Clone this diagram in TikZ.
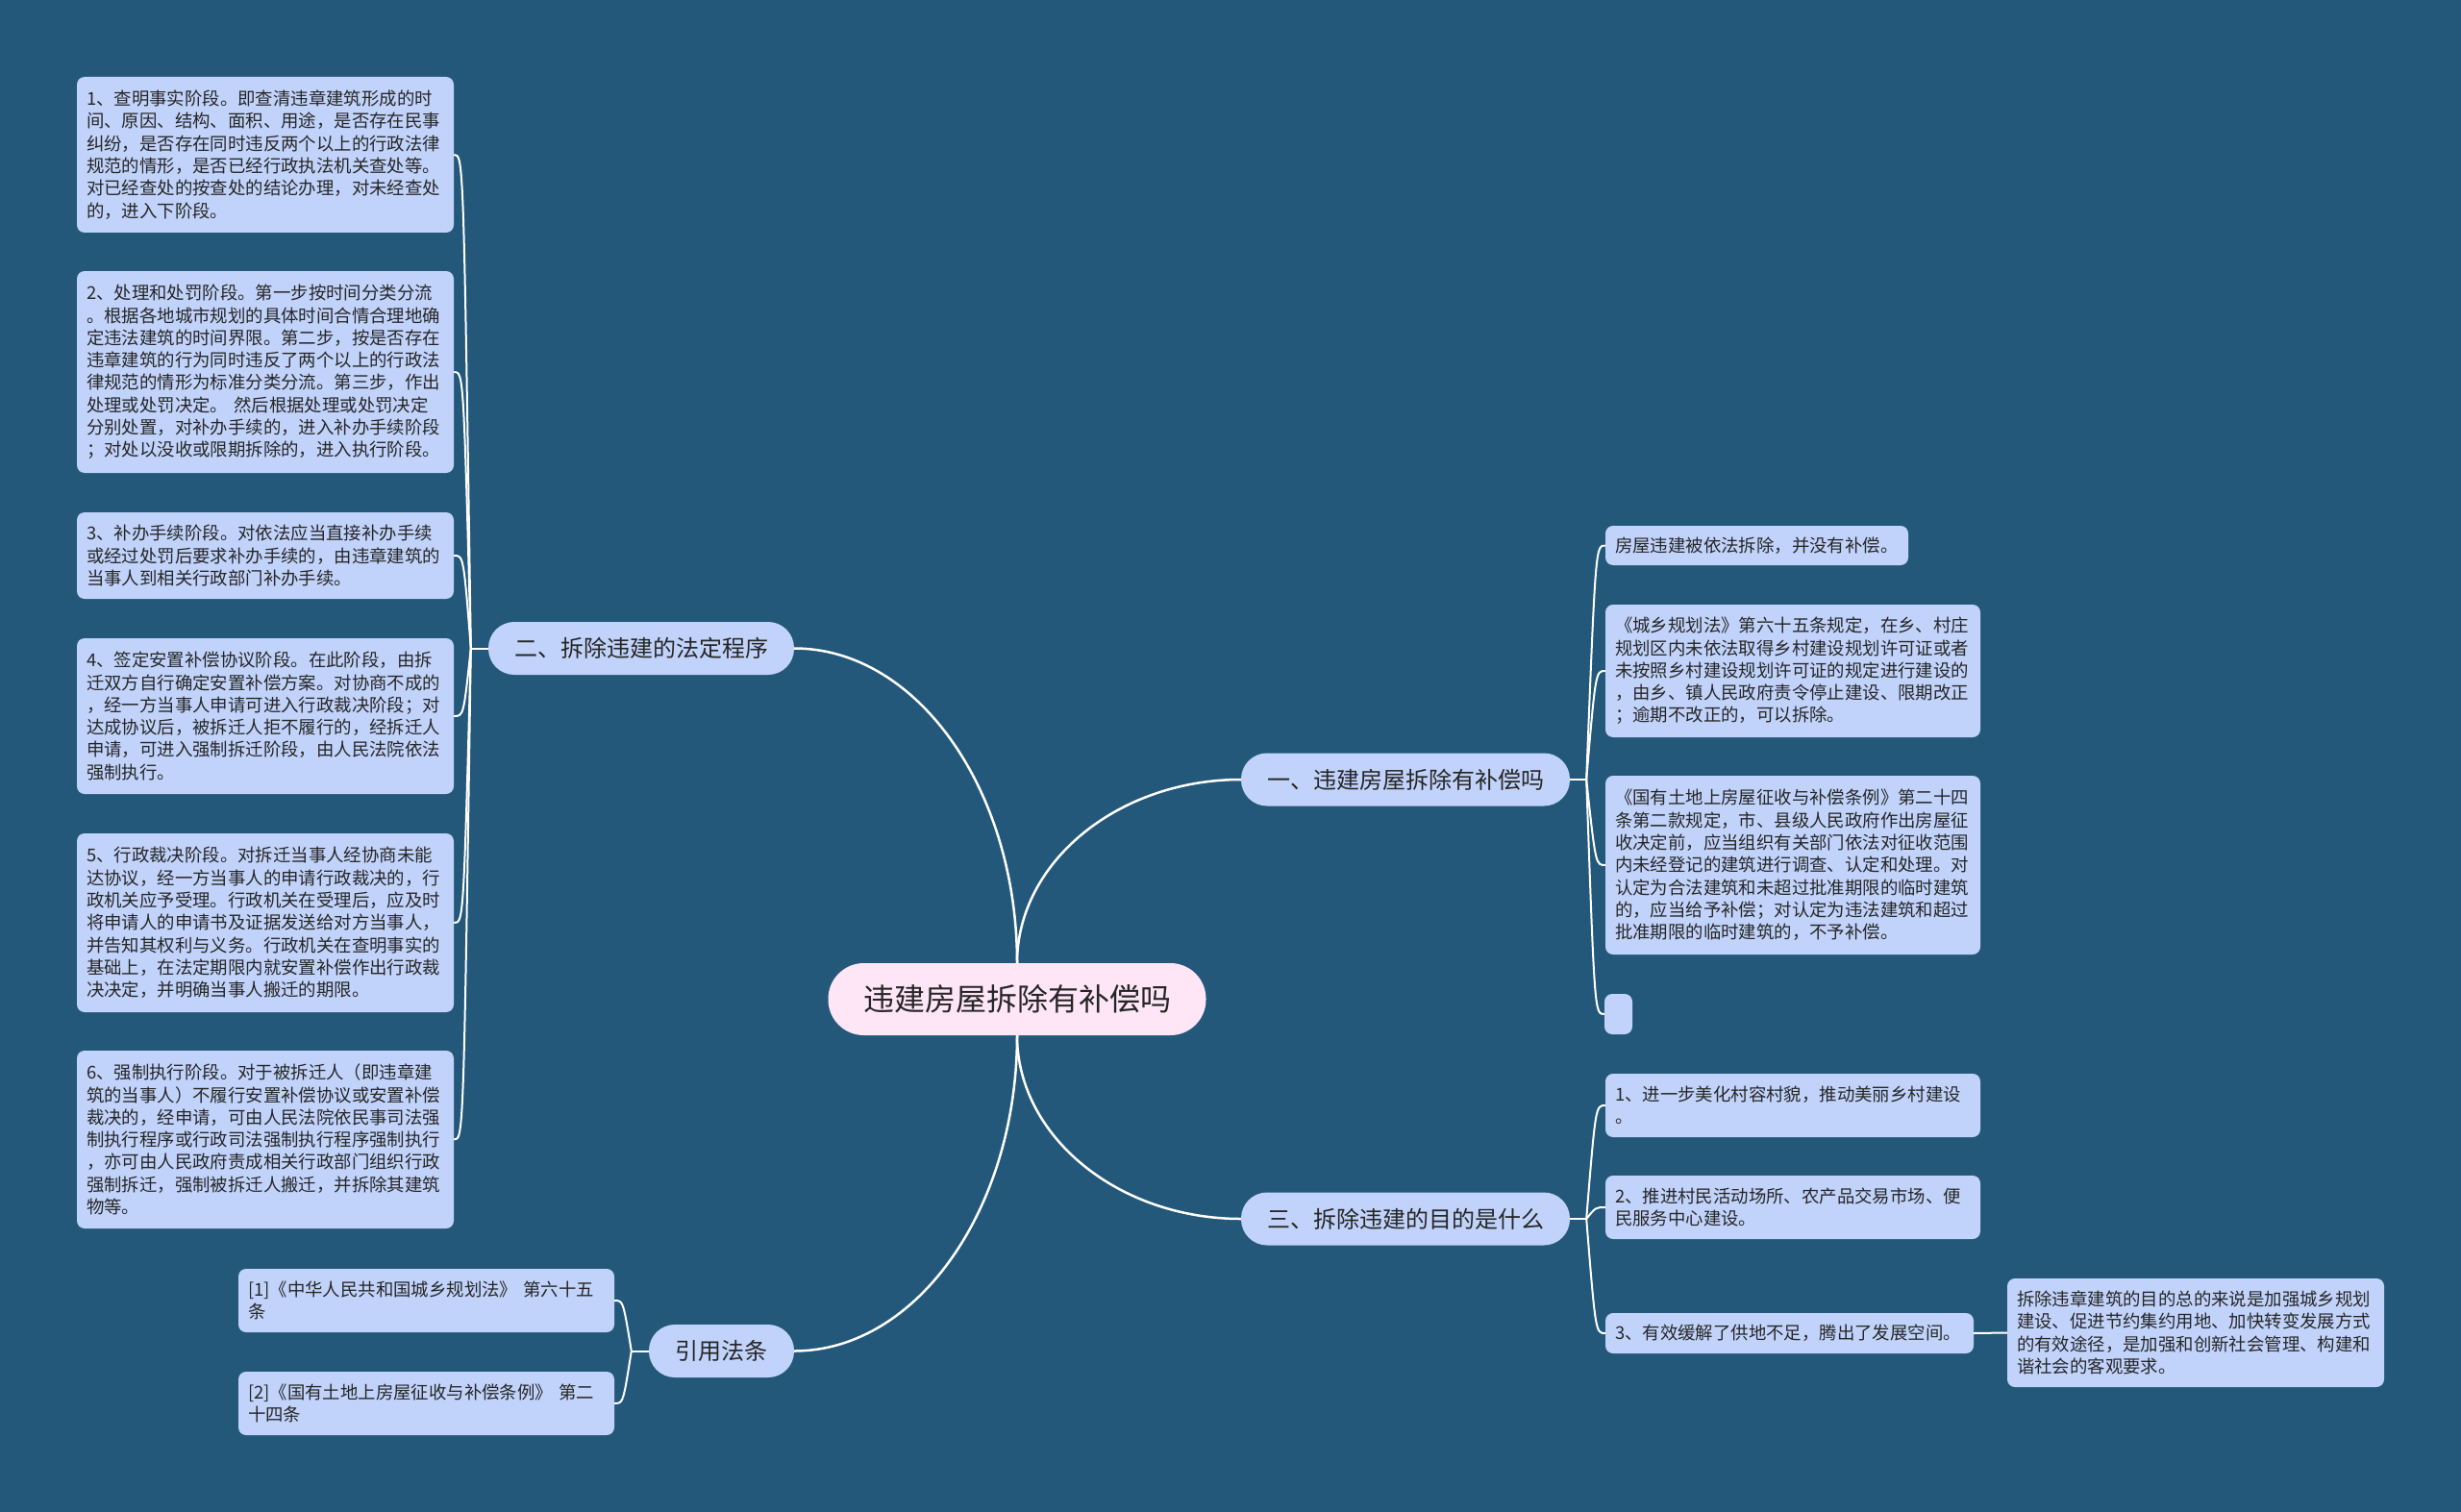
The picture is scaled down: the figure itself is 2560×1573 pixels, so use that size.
\documentclass[tikz,border=0pt]{standalone}
\usepackage{fontspec}
\setmainfont{Noto Sans CJK SC}
\usetikzlibrary{calc}
\definecolor{bg}{HTML}{23587A}
\definecolor{leaffill}{HTML}{C1D3FA}
\definecolor{rootfill}{HTML}{FFE6F7}
\definecolor{ink}{HTML}{262626}
\tikzset{
 leaf/.style={fill=leaffill, rounded corners=8pt, inner xsep=10pt, inner ysep=0pt, align=left, text=ink, font=\fontsize{18.4}{23.3}\selectfont},
 branch/.style={fill=leaffill, rounded corners=27pt, minimum height=55pt, inner sep=0pt, text=ink, font=\fontsize{24}{28}\selectfont},
 root/.style={fill=rootfill, rounded corners=37pt, minimum height=75pt, minimum width=393pt, inner sep=0pt, text=ink, font=\fontsize{32}{36}\selectfont},
 mainline/.style={draw=white, line width=2.5pt},
 subline/.style={draw=white, line width=2pt},
}
\begin{document}
\begin{tikzpicture}[x=1pt,y=-1pt]
\fill[bg] (0,0) rectangle (2560,1573);
\useasboundingbox (0,0) rectangle (2560,1573);

% root and branches
\node[root] (c) at (1058,1039.5) {违建房屋拆除有补偿吗};
\node[branch, minimum width=318pt] (b2) at (667,674.5) {二、拆除违建的法定程序};
\node[branch, minimum width=342pt] (b1) at (1462,811) {一、违建房屋拆除有补偿吗};
\node[branch, minimum width=342pt] (b3) at (1462,1268) {三、拆除违建的目的是什么};
\node[branch, minimum width=151pt] (b4) at (750.5,1405.5) {引用法条};

% left leaves
\node[leaf, text width=372pt, minimum height=162pt] (L1) at (276,161) {1、查明事实阶段。即查清违章建筑形成的时\\间、原因、结构、面积、用途，是否存在民事\\纠纷，是否存在同时违反两个以上的行政法律\\规范的情形，是否已经行政执法机关查处等。\\对已经查处的按查处的结论办理，对未经查处\\的，进入下阶段。};
\node[leaf, text width=372pt, minimum height=210pt] (L2) at (276,387) {2、处理和处罚阶段。第一步按时间分类分流\\。根据各地城市规划的具体时间合情合理地确\\定违法建筑的时间界限。第二步，按是否存在\\违章建筑的行为同时违反了两个以上的行政法\\律规范的情形为标准分类分流。第三步，作出\\处理或处罚决定。 然后根据处理或处罚决定\\分别处置，对补办手续的，进入补办手续阶段\\；对处以没收或限期拆除的，进入执行阶段。};
\node[leaf, text width=372pt, minimum height=90pt] (L3) at (276,578) {3、补办手续阶段。对依法应当直接补办手续\\或经过处罚后要求补办手续的，由违章建筑的\\当事人到相关行政部门补办手续。};
\node[leaf, text width=372pt, minimum height=162pt] (L4) at (276,745) {4、签定安置补偿协议阶段。在此阶段，由拆\\迁双方自行确定安置补偿方案。对协商不成的\\，经一方当事人申请可进入行政裁决阶段；对\\达成协议后，被拆迁人拒不履行的，经拆迁人\\申请，可进入强制拆迁阶段，由人民法院依法\\强制执行。};
\node[leaf, text width=372pt, minimum height=186pt] (L5) at (276,960) {5、行政裁决阶段。对拆迁当事人经协商未能\\达协议，经一方当事人的申请行政裁决的，行\\政机关应予受理。行政机关在受理后，应及时\\将申请人的申请书及证据发送给对方当事人，\\并告知其权利与义务。行政机关在查明事实的\\基础上，在法定期限内就安置补偿作出行政裁\\决决定，并明确当事人搬迁的期限。};
\node[leaf, text width=372pt, minimum height=185pt] (L6) at (276,1185.5) {6、强制执行阶段。对于被拆迁人（即违章建\\筑的当事人）不履行安置补偿协议或安置补偿\\裁决的，经申请，可由人民法院依民事司法强\\制执行程序或行政司法强制执行程序强制执行\\，亦可由人民政府责成相关行政部门组织行政\\强制拆迁，强制被拆迁人搬迁，并拆除其建筑\\物等。};

% references
\node[leaf, text width=371pt, minimum height=66pt] (F1) at (443.5,1353) {[1]《中华人民共和国城乡规划法》 第六十五\\条};
\node[leaf, text width=371pt, minimum height=66pt] (F2) at (443.5,1460) {[2]《国有土地上房屋征收与补偿条例》 第二\\十四条};

% right leaves of branch 1
\node[leaf, text width=295pt, minimum height=41pt] (R1) at (1827.5,567.5) {房屋违建被依法拆除，并没有补偿。};
\node[leaf, text width=370pt, minimum height=138pt] (R2) at (1865,698) {《城乡规划法》第六十五条规定，在乡、村庄\\规划区内未依法取得乡村建设规划许可证或者\\未按照乡村建设规划许可证的规定进行建设的\\，由乡、镇人民政府责令停止建设、限期改正\\；逾期不改正的，可以拆除。};
\node[leaf, text width=370pt, minimum height=186pt] (R3) at (1865,900) {《国有土地上房屋征收与补偿条例》第二十四\\条第二款规定，市、县级人民政府作出房屋征\\收决定前，应当组织有关部门依法对征收范围\\内未经登记的建筑进行调查、认定和处理。对\\认定为合法建筑和未超过批准期限的临时建筑\\的，应当给予补偿；对认定为违法建筑和超过\\批准期限的临时建筑的，不予补偿。};
\node[leaf, inner xsep=0pt, minimum width=29pt, minimum height=42pt] (R4) at (1683.5,1055) {};

% right leaves of branch 3
\node[leaf, text width=370pt, minimum height=66pt] (S1) at (1865,1150) {1、进一步美化村容村貌，推动美丽乡村建设\\。};
\node[leaf, text width=370pt, minimum height=66pt] (S2) at (1865,1256) {2、推进村民活动场所、农产品交易市场、便\\民服务中心建设。};
\node[leaf, text width=363pt, minimum height=42pt] (S3) at (1861.5,1387) {3、有效缓解了供地不足，腾出了发展空间。};
\node[leaf, text width=372pt, minimum height=113pt] (S4) at (2284,1386.5) {拆除违章建筑的目的总的来说是加强城乡规划\\建设、促进节约集约用地、加快转变发展方式\\的有效途径，是加强和创新社会管理、构建和\\谐社会的客观要求。};

% main connectors
\draw[mainline] (c.north) .. controls (1058,822) and (954,674.5) .. (b2.east);
\draw[mainline] (c.north) .. controls (1058,897) and (1163,811) .. (b1.west);
\draw[mainline] (c.south) .. controls (1058,1182) and (1163,1268) .. (b3.west);
\draw[mainline] (c.south) .. controls (1058,1257) and (954,1405.5) .. (b4.east);

% junctions
\coordinate (j2) at ($(b2.west)+(-18,0)$);
\coordinate (j4) at ($(b4.west)+(-18,0)$);
\coordinate (j1) at ($(b1.east)+(17,0)$);
\coordinate (j3) at ($(b3.east)+(17,0)$);

% sub connectors
\draw[subline] (b2.west) -- (j2);
\foreach \n in {L1,L2,L3,L4,L5,L6}
  \draw[subline] (j2) .. controls ($(\n.east)+(10,0)$) .. (\n.east);
\draw[subline] (b4.west) -- (j4);
\foreach \n in {F1,F2}
  \draw[subline] (j4) .. controls ($(\n.east)+(9,0)$) .. (\n.east);
\draw[subline] (b1.east) -- (j1);
\foreach \n in {R1,R2,R3,R4}
  \draw[subline] (j1) .. controls ($(\n.west)+(-10,0)$) .. (\n.west);
\draw[subline] (b3.east) -- (j3);
\foreach \n in {S1,S2,S3}
  \draw[subline] (j3) .. controls ($(\n.west)+(-10,0)$) .. (\n.west);
\draw[subline] (S3.east) -- (S4.west);
\end{tikzpicture}
\end{document}
